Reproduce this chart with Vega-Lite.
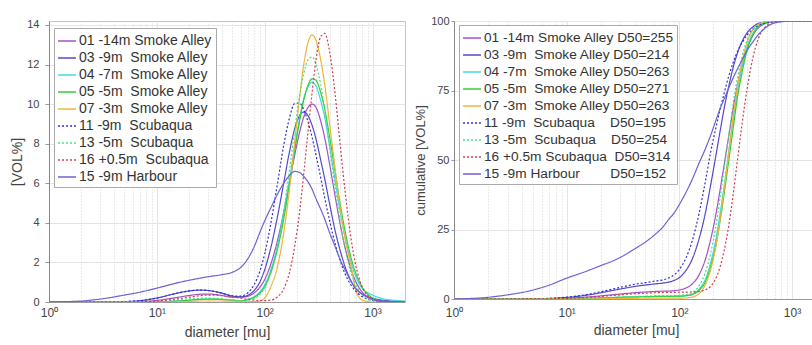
{
"$schema": "https://vega.github.io/schema/vega-lite/v6.json",
"padding": {"left": 10, "top": 14, "right": 0, "bottom": 0},
"spacing": 8,
"background": "white",
"config": {
 "font": "Liberation Sans",
 "view": {"stroke": "#c4c4c4"},
 "axis": {"labelFont": "Liberation Sans", "labelFontSize": 11, "labelColor": "#444", "titleFont": "Liberation Sans", "titleFontSize": 14, "titleFontWeight": "normal", "titleColor": "#444", "domainColor": "#999", "tickColor": "#999", "gridColor": "#e4e4e4"},
 "legend": {"labelFont": "Liberation Sans", "labelFontSize": 14, "labelColor": "#333", "fillColor": "white", "strokeColor": "#aaa", "padding": 3, "symbolSize": 320, "symbolStrokeWidth": 1.5, "rowPadding": 0, "labelOffset": 2, "orient": "none", "labelLimit": 400}
},
"datasets": {"psd": [
{"s":"01","d":1,"f":0,"c":0},{"s":"01","d":2,"f":0,"c":0},{"s":"01","d":3,"f":0,"c":0},{"s":"01","d":5,"f":0,"c":0.03},{"s":"01","d":7,"f":0.02,"c":0.1},{"s":"01","d":10,"f":0.08,"c":0.28},{"s":"01","d":15,"f":0.22,"c":0.68},{"s":"01","d":20,"f":0.33,"c":1.11},{"s":"01","d":25,"f":0.39,"c":1.5},{"s":"01","d":30,"f":0.4,"c":1.8},{"s":"01","d":40,"f":0.33,"c":2.25},{"s":"01","d":50,"f":0.24,"c":2.52},{"s":"01","d":60,"f":0.24,"c":2.7},{"s":"01","d":70,"f":0.29,"c":2.8},{"s":"01","d":80,"f":0.46,"c":2.85},{"s":"01","d":90,"f":0.74,"c":3.0},{"s":"01","d":100,"f":1.13,"c":3.25},{"s":"01","d":115,"f":1.98,"c":4.0},{"s":"01","d":130,"f":3.01,"c":5.4},{"s":"01","d":150,"f":4.52,"c":8.8},{"s":"01","d":170,"f":6.07,"c":14.2},{"s":"01","d":190,"f":7.44,"c":21.6},{"s":"01","d":210,"f":8.55,"c":30.0},{"s":"01","d":230,"f":9.34,"c":39.3},{"s":"01","d":250,"f":9.8,"c":48.4},{"s":"01","d":275,"f":10.0,"c":58.8},{"s":"01","d":300,"f":9.82,"c":68.4},{"s":"01","d":330,"f":9.16,"c":77.4},{"s":"01","d":360,"f":8.3,"c":83.9},{"s":"01","d":400,"f":6.97,"c":90.3},{"s":"01","d":450,"f":5.34,"c":94.9},{"s":"01","d":500,"f":3.96,"c":97.4},{"s":"01","d":560,"f":2.69,"c":98.8},{"s":"01","d":630,"f":1.68,"c":99.5},{"s":"01","d":700,"f":1.03,"c":99.8},{"s":"01","d":800,"f":0.51,"c":100},{"s":"01","d":1000,"f":0.13,"c":100},{"s":"01","d":1300,"f":0.02,"c":100},{"s":"01","d":2000,"f":0,"c":100},
{"s":"03","d":1,"f":0,"c":0},{"s":"03","d":2,"f":0,"c":0},{"s":"03","d":3,"f":0,"c":0.01},{"s":"03","d":5,"f":0.02,"c":0.06},{"s":"03","d":7,"f":0.07,"c":0.19},{"s":"03","d":10,"f":0.2,"c":0.55},{"s":"03","d":15,"f":0.43,"c":1.36},{"s":"03","d":20,"f":0.56,"c":2.22},{"s":"03","d":25,"f":0.6,"c":3.0},{"s":"03","d":30,"f":0.58,"c":3.6},{"s":"03","d":40,"f":0.45,"c":4.5},{"s":"03","d":50,"f":0.3,"c":5.04},{"s":"03","d":60,"f":0.26,"c":5.4},{"s":"03","d":70,"f":0.34,"c":5.7},{"s":"03","d":80,"f":0.59,"c":6.06},{"s":"03","d":90,"f":1.0,"c":6.7},{"s":"03","d":100,"f":1.63,"c":7.7},{"s":"03","d":115,"f":2.83,"c":10.4},{"s":"03","d":130,"f":4.19,"c":14.3},{"s":"03","d":150,"f":6.0,"c":21.8},{"s":"03","d":170,"f":7.61,"c":30.8},{"s":"03","d":190,"f":8.76,"c":41.2},{"s":"03","d":210,"f":9.41,"c":51.1},{"s":"03","d":230,"f":9.6,"c":60.4},{"s":"03","d":250,"f":9.45,"c":68.6},{"s":"03","d":275,"f":8.93,"c":76.7},{"s":"03","d":300,"f":8.21,"c":83.2},{"s":"03","d":330,"f":7.19,"c":88.8},{"s":"03","d":360,"f":6.23,"c":92.6},{"s":"03","d":400,"f":4.96,"c":95.8},{"s":"03","d":450,"f":3.6,"c":97.9},{"s":"03","d":500,"f":2.62,"c":99.1},{"s":"03","d":560,"f":1.74,"c":99.5},{"s":"03","d":630,"f":1.08,"c":99.8},{"s":"03","d":700,"f":0.66,"c":99.9},{"s":"03","d":800,"f":0.4,"c":100},{"s":"03","d":1000,"f":0.2,"c":100},{"s":"03","d":1300,"f":0.08,"c":100},{"s":"03","d":2000,"f":0.02,"c":100},
{"s":"04","d":1,"f":0,"c":0},{"s":"04","d":2,"f":0,"c":0},{"s":"04","d":3,"f":0,"c":0},{"s":"04","d":5,"f":0,"c":0},{"s":"04","d":7,"f":0,"c":0},{"s":"04","d":10,"f":0.01,"c":0.1},{"s":"04","d":15,"f":0.04,"c":0.2},{"s":"04","d":20,"f":0.09,"c":0.4},{"s":"04","d":25,"f":0.13,"c":0.5},{"s":"04","d":30,"f":0.15,"c":0.6},{"s":"04","d":40,"f":0.13,"c":0.75},{"s":"04","d":50,"f":0.09,"c":0.85},{"s":"04","d":60,"f":0.06,"c":0.9},{"s":"04","d":70,"f":0.14,"c":0.95},{"s":"04","d":80,"f":0.27,"c":0.95},{"s":"04","d":90,"f":0.5,"c":1.0},{"s":"04","d":100,"f":0.87,"c":1.05},{"s":"04","d":115,"f":1.69,"c":1.2},{"s":"04","d":130,"f":2.75,"c":1.7},{"s":"04","d":150,"f":4.46,"c":3.6},{"s":"04","d":170,"f":6.19,"c":7.1},{"s":"04","d":190,"f":7.87,"c":13.2},{"s":"04","d":210,"f":9.22,"c":21.1},{"s":"04","d":230,"f":10.25,"c":30.8},{"s":"04","d":250,"f":10.83,"c":40.7},{"s":"04","d":275,"f":11.1,"c":53.3},{"s":"04","d":300,"f":10.9,"c":64.5},{"s":"04","d":330,"f":10.2,"c":75.4},{"s":"04","d":360,"f":9.33,"c":83.6},{"s":"04","d":400,"f":7.87,"c":90.8},{"s":"04","d":450,"f":6.13,"c":95.7},{"s":"04","d":500,"f":4.58,"c":98.1},{"s":"04","d":560,"f":3.19,"c":99.1},{"s":"04","d":630,"f":2.04,"c":99.5},{"s":"04","d":700,"f":1.28,"c":99.7},{"s":"04","d":800,"f":0.7,"c":99.8},{"s":"04","d":1000,"f":0.35,"c":99.9},{"s":"04","d":1300,"f":0.15,"c":100},{"s":"04","d":2000,"f":0.05,"c":100},
{"s":"05","d":1,"f":0,"c":0},{"s":"05","d":2,"f":0,"c":0},{"s":"05","d":3,"f":0,"c":0},{"s":"05","d":5,"f":0,"c":0},{"s":"05","d":7,"f":0,"c":0},{"s":"05","d":10,"f":0.01,"c":0.1},{"s":"05","d":15,"f":0.04,"c":0.2},{"s":"05","d":20,"f":0.09,"c":0.4},{"s":"05","d":25,"f":0.13,"c":0.5},{"s":"05","d":30,"f":0.15,"c":0.6},{"s":"05","d":40,"f":0.13,"c":0.75},{"s":"05","d":50,"f":0.09,"c":0.85},{"s":"05","d":60,"f":0.06,"c":0.9},{"s":"05","d":70,"f":0.12,"c":0.95},{"s":"05","d":80,"f":0.24,"c":0.95},{"s":"05","d":90,"f":0.45,"c":1.0},{"s":"05","d":100,"f":0.78,"c":1.0},{"s":"05","d":115,"f":1.56,"c":1.2},{"s":"05","d":130,"f":2.57,"c":1.6},{"s":"05","d":150,"f":4.18,"c":3.1},{"s":"05","d":170,"f":5.97,"c":6.2},{"s":"05","d":190,"f":7.67,"c":11.7},{"s":"05","d":210,"f":9.1,"c":18.9},{"s":"05","d":230,"f":10.2,"c":28.1},{"s":"05","d":250,"f":10.9,"c":38.0},{"s":"05","d":275,"f":11.28,"c":50.1},{"s":"05","d":300,"f":11.19,"c":61.4},{"s":"05","d":330,"f":10.6,"c":73.2},{"s":"05","d":360,"f":9.76,"c":81.5},{"s":"05","d":400,"f":8.34,"c":89.5},{"s":"05","d":450,"f":6.58,"c":95.0},{"s":"05","d":500,"f":4.98,"c":97.7},{"s":"05","d":560,"f":3.5,"c":99.1},{"s":"05","d":630,"f":2.27,"c":99.7},{"s":"05","d":700,"f":1.45,"c":99.9},{"s":"05","d":800,"f":0.77,"c":100},{"s":"05","d":1000,"f":0.21,"c":100},{"s":"05","d":1300,"f":0.03,"c":100},{"s":"05","d":2000,"f":0,"c":100},
{"s":"07","d":1,"f":0,"c":0},{"s":"07","d":2,"f":0,"c":0},{"s":"07","d":3,"f":0,"c":0},{"s":"07","d":5,"f":0,"c":0},{"s":"07","d":7,"f":0,"c":0},{"s":"07","d":10,"f":0,"c":0},{"s":"07","d":15,"f":0,"c":0.05},{"s":"07","d":20,"f":0.03,"c":0.1},{"s":"07","d":25,"f":0.05,"c":0.15},{"s":"07","d":30,"f":0.05,"c":0.2},{"s":"07","d":40,"f":0.05,"c":0.25},{"s":"07","d":50,"f":0.04,"c":0.28},{"s":"07","d":60,"f":0.03,"c":0.3},{"s":"07","d":70,"f":0.02,"c":0.3},{"s":"07","d":80,"f":0.02,"c":0.3},{"s":"07","d":90,"f":0.05,"c":0.3},{"s":"07","d":100,"f":0.2,"c":0.3},{"s":"07","d":115,"f":0.82,"c":0.4},{"s":"07","d":130,"f":1.69,"c":0.7},{"s":"07","d":150,"f":3.46,"c":2.0},{"s":"07","d":170,"f":5.72,"c":5.1},{"s":"07","d":190,"f":8.11,"c":10.7},{"s":"07","d":210,"f":10.28,"c":18.6},{"s":"07","d":230,"f":11.98,"c":28.6},{"s":"07","d":250,"f":13.04,"c":39.6},{"s":"07","d":275,"f":13.5,"c":53.0},{"s":"07","d":300,"f":13.2,"c":65.3},{"s":"07","d":330,"f":12.26,"c":77.1},{"s":"07","d":360,"f":11.0,"c":85.3},{"s":"07","d":400,"f":9.0,"c":92.4},{"s":"07","d":450,"f":6.73,"c":96.9},{"s":"07","d":500,"f":4.79,"c":98.7},{"s":"07","d":560,"f":3.13,"c":99.6},{"s":"07","d":630,"f":1.85,"c":99.9},{"s":"07","d":700,"f":0.6,"c":100},{"s":"07","d":800,"f":0.1,"c":100},{"s":"07","d":1000,"f":0,"c":100},{"s":"07","d":1300,"f":0,"c":100},{"s":"07","d":2000,"f":0,"c":100},
{"s":"11","d":1,"f":0,"c":0},{"s":"11","d":2,"f":0,"c":0},{"s":"11","d":3,"f":0,"c":0.01},{"s":"11","d":5,"f":0.02,"c":0.07},{"s":"11","d":7,"f":0.07,"c":0.22},{"s":"11","d":10,"f":0.2,"c":0.64},{"s":"11","d":15,"f":0.43,"c":1.59},{"s":"11","d":20,"f":0.56,"c":2.59},{"s":"11","d":25,"f":0.6,"c":3.5},{"s":"11","d":30,"f":0.58,"c":4.2},{"s":"11","d":40,"f":0.45,"c":5.25},{"s":"11","d":50,"f":0.31,"c":5.88},{"s":"11","d":60,"f":0.3,"c":6.4},{"s":"11","d":70,"f":0.47,"c":6.8},{"s":"11","d":80,"f":0.88,"c":7.5},{"s":"11","d":90,"f":1.54,"c":8.7},{"s":"11","d":100,"f":2.44,"c":10.6},{"s":"11","d":115,"f":4.09,"c":14.9},{"s":"11","d":130,"f":5.83,"c":20.9},{"s":"11","d":150,"f":7.9,"c":31.0},{"s":"11","d":170,"f":9.32,"c":42.2},{"s":"11","d":190,"f":10.03,"c":53.1},{"s":"11","d":210,"f":10.05,"c":61.2},{"s":"11","d":230,"f":9.72,"c":68.3},{"s":"11","d":250,"f":9.17,"c":74.1},{"s":"11","d":275,"f":8.33,"c":80.3},{"s":"11","d":300,"f":7.39,"c":85.0},{"s":"11","d":330,"f":6.31,"c":89.3},{"s":"11","d":360,"f":5.27,"c":92.2},{"s":"11","d":400,"f":4.11,"c":95.0},{"s":"11","d":450,"f":2.94,"c":97.1},{"s":"11","d":500,"f":2.11,"c":98.3},{"s":"11","d":560,"f":1.39,"c":99.1},{"s":"11","d":630,"f":0.86,"c":99.5},{"s":"11","d":700,"f":0.54,"c":99.8},{"s":"11","d":800,"f":0.28,"c":99.9},{"s":"11","d":1000,"f":0.08,"c":100},{"s":"11","d":1300,"f":0.01,"c":100},{"s":"11","d":2000,"f":0,"c":100},
{"s":"13","d":1,"f":0,"c":0},{"s":"13","d":2,"f":0,"c":0},{"s":"13","d":3,"f":0,"c":0},{"s":"13","d":5,"f":0,"c":0},{"s":"13","d":7,"f":0,"c":0.04},{"s":"13","d":10,"f":0.02,"c":0.1},{"s":"13","d":15,"f":0.09,"c":0.3},{"s":"13","d":20,"f":0.16,"c":0.4},{"s":"13","d":25,"f":0.19,"c":0.6},{"s":"13","d":30,"f":0.2,"c":0.7},{"s":"13","d":40,"f":0.16,"c":0.9},{"s":"13","d":50,"f":0.11,"c":1.0},{"s":"13","d":60,"f":0.07,"c":1.1},{"s":"13","d":70,"f":0.1,"c":1.1},{"s":"13","d":80,"f":0.19,"c":1.1},{"s":"13","d":90,"f":0.38,"c":1.2},{"s":"13","d":100,"f":0.71,"c":1.3},{"s":"13","d":115,"f":1.52,"c":1.6},{"s":"13","d":130,"f":2.64,"c":2.3},{"s":"13","d":150,"f":4.59,"c":4.8},{"s":"13","d":170,"f":6.7,"c":9.5},{"s":"13","d":190,"f":8.72,"c":16.6},{"s":"13","d":210,"f":10.36,"c":25.7},{"s":"13","d":230,"f":11.53,"c":36.4},{"s":"13","d":250,"f":12.2,"c":47.0},{"s":"13","d":275,"f":12.39,"c":59.2},{"s":"13","d":300,"f":11.99,"c":70.2},{"s":"13","d":330,"f":11.0,"c":80.1},{"s":"13","d":360,"f":9.7,"c":87.1},{"s":"13","d":400,"f":7.83,"c":93.2},{"s":"13","d":450,"f":5.74,"c":96.9},{"s":"13","d":500,"f":4.08,"c":98.7},{"s":"13","d":560,"f":2.59,"c":99.5},{"s":"13","d":630,"f":1.51,"c":99.9},{"s":"13","d":700,"f":0.86,"c":100},{"s":"13","d":800,"f":0.39,"c":100},{"s":"13","d":1000,"f":0.08,"c":100},{"s":"13","d":1300,"f":0,"c":100},{"s":"13","d":2000,"f":0,"c":100},
{"s":"16","d":1,"f":0,"c":0},{"s":"16","d":2,"f":0,"c":0},{"s":"16","d":3,"f":0,"c":0},{"s":"16","d":5,"f":0,"c":0.02},{"s":"16","d":7,"f":0.01,"c":0.08},{"s":"16","d":10,"f":0.05,"c":0.23},{"s":"16","d":15,"f":0.15,"c":0.57},{"s":"16","d":20,"f":0.25,"c":0.93},{"s":"16","d":25,"f":0.32,"c":1.25},{"s":"16","d":30,"f":0.35,"c":1.5},{"s":"16","d":40,"f":0.32,"c":1.9},{"s":"16","d":50,"f":0.25,"c":2.1},{"s":"16","d":60,"f":0.19,"c":2.25},{"s":"16","d":70,"f":0.14,"c":2.3},{"s":"16","d":80,"f":0.09,"c":2.4},{"s":"16","d":90,"f":0.07,"c":2.4},{"s":"16","d":100,"f":0.07,"c":2.45},{"s":"16","d":115,"f":0.1,"c":2.5},{"s":"16","d":130,"f":0.24,"c":2.54},{"s":"16","d":150,"f":0.66,"c":2.7},{"s":"16","d":170,"f":1.5,"c":3.3},{"s":"16","d":190,"f":2.84,"c":4.6},{"s":"16","d":210,"f":4.48,"c":7.3},{"s":"16","d":230,"f":6.46,"c":11.6},{"s":"16","d":250,"f":8.41,"c":17.5},{"s":"16","d":275,"f":10.57,"c":26.7},{"s":"16","d":300,"f":12.3,"c":37.5},{"s":"16","d":330,"f":13.4,"c":50.9},{"s":"16","d":360,"f":13.57,"c":62.8},{"s":"16","d":400,"f":12.65,"c":75.8},{"s":"16","d":450,"f":10.5,"c":86.9},{"s":"16","d":500,"f":8.0,"c":93.4},{"s":"16","d":560,"f":5.46,"c":97.2},{"s":"16","d":630,"f":3.25,"c":99.0},{"s":"16","d":700,"f":1.84,"c":99.7},{"s":"16","d":800,"f":0.78,"c":99.9},{"s":"16","d":1000,"f":0.14,"c":100},{"s":"16","d":1300,"f":0.01,"c":100},{"s":"16","d":2000,"f":0,"c":100},
{"s":"15","d":1,"f":0,"c":0},{"s":"15","d":2,"f":0.05,"c":0.6},{"s":"15","d":3,"f":0.15,"c":1.5},{"s":"15","d":5,"f":0.35,"c":3.2},{"s":"15","d":7,"f":0.5,"c":5},{"s":"15","d":10,"f":0.7,"c":7.5},{"s":"15","d":15,"f":0.95,"c":10},{"s":"15","d":20,"f":1.1,"c":12},{"s":"15","d":25,"f":1.2,"c":13.5},{"s":"15","d":30,"f":1.28,"c":15},{"s":"15","d":40,"f":1.38,"c":18},{"s":"15","d":50,"f":1.5,"c":20.5},{"s":"15","d":60,"f":1.75,"c":23},{"s":"15","d":70,"f":2.2,"c":25.5},{"s":"15","d":80,"f":2.8,"c":28.5},{"s":"15","d":90,"f":3.5,"c":31},{"s":"15","d":100,"f":4.1,"c":34},{"s":"15","d":115,"f":4.8,"c":38.5},{"s":"15","d":130,"f":5.4,"c":43},{"s":"15","d":150,"f":6.0,"c":49},{"s":"15","d":170,"f":6.4,"c":54},{"s":"15","d":190,"f":6.6,"c":59},{"s":"15","d":210,"f":6.55,"c":64},{"s":"15","d":230,"f":6.35,"c":68.5},{"s":"15","d":250,"f":6.1,"c":72},{"s":"15","d":275,"f":5.7,"c":76},{"s":"15","d":300,"f":5.2,"c":79.5},{"s":"15","d":330,"f":4.7,"c":83},{"s":"15","d":360,"f":4.2,"c":86},{"s":"15","d":400,"f":3.5,"c":89.5},{"s":"15","d":450,"f":2.8,"c":92.5},{"s":"15","d":500,"f":2.15,"c":95},{"s":"15","d":560,"f":1.6,"c":97},{"s":"15","d":630,"f":1.05,"c":98.5},{"s":"15","d":700,"f":0.7,"c":99.3},{"s":"15","d":800,"f":0.4,"c":99.7},{"s":"15","d":1000,"f":0.15,"c":100},{"s":"15","d":1300,"f":0.05,"c":100},{"s":"15","d":2000,"f":0,"c":100}
]},
"resolve": {"legend": {"color": "independent", "strokeDash": "independent"}},
"hconcat": [
 {
  "width": 356, "height": 281,
  "data": {"name": "psd"},
  "mark": {"type": "line", "interpolate": "monotone", "clip": true},
  "encoding": {
   "x": {"field": "d", "type": "quantitative", "scale": {"type": "log", "domain": [1, 2000], "nice": false},
    "axis": {"title": "diameter [mu]", "values": [1,2,3,4,5,6,7,8,9,10,20,30,40,50,60,70,80,90,100,200,300,400,500,600,700,800,900,1000],
     "labelExpr": "datum.value === 1 ? '10\u2070' : datum.value === 10 ? '10\u00b9' : datum.value === 100 ? '10\u00b2' : datum.value === 1000 ? '10\u00b3' : ''",
     "labelOverlap": false, "labelFlush": false, "labelFontSize": 12, "ticks": false, "labelPadding": 5, "titlePadding": 7,
     "gridDash": {"condition": {"test": "indexof([1,10,100,1000], datum.value) >= 0", "value": []}, "value": [1, 2]},
     "gridColor": {"condition": {"test": "indexof([1,10,100,1000], datum.value) >= 0", "value": "#e4e4e4"}, "value": "#d4d4d4"}}},
   "y": {"field": "f", "type": "quantitative", "scale": {"domain": [0, 14.2], "nice": false},
    "axis": {"title": "[VOL%]", "values": [0,2,4,6,8,10,12,14], "tickSize": 4, "labelPadding": 6, "titlePadding": 2, "domainColor": "#888"}},
   "color": {"field": "s", "type": "nominal",
    "scale": {"domain": ["01","03","04","05","07","11","13","16","15"], "range": ["#a650c8","#5548c8","#3fd8e6","#33cc33","#f0b437","#2f2fd0","#45e07c","#d23c50","#6c62d4"]},
    "legend": {"title": null, "orient": "none", "legendX": 5, "legendY": 7,
     "labelExpr": "['01 -14m Smoke Alley','03 -9m\u00a0 Smoke Alley','04 -7m\u00a0 Smoke Alley','05 -5m\u00a0 Smoke Alley','07 -3m\u00a0 Smoke Alley','11 -9m\u00a0 Scubaqua','13 -5m\u00a0 Scubaqua','16 +0.5m\u00a0 Scubaqua','15 -9m Harbour'][indexof(['01','03','04','05','07','11','13','16','15'], datum.label)]"}},
   "strokeDash": {"field": "s", "type": "nominal",
    "scale": {"domain": ["01","03","04","05","07","11","13","16","15"], "range": [[1,0],[1,0],[1,0],[1,0],[1,0],[2,2],[2,2],[2,2],[1,0]]},
    "legend": {"title": null, "orient": "none", "legendX": 5, "legendY": 7,
     "labelExpr": "['01 -14m Smoke Alley','03 -9m\u00a0 Smoke Alley','04 -7m\u00a0 Smoke Alley','05 -5m\u00a0 Smoke Alley','07 -3m\u00a0 Smoke Alley','11 -9m\u00a0 Scubaqua','13 -5m\u00a0 Scubaqua','16 +0.5m\u00a0 Scubaqua','15 -9m Harbour'][indexof(['01','03','04','05','07','11','13','16','15'], datum.label)]"}},
   "strokeWidth": {"field": "s", "type": "nominal",
    "scale": {"domain": ["01","03","04","05","07","11","13","16","15"], "range": [1.2,1.2,1.2,2,1.2,1.4,1.4,1.4,1.2]}, "legend": null}
  }
 },
 {
  "width": 364, "height": 278,
  "data": {"name": "psd"},
  "mark": {"type": "line", "interpolate": "monotone", "clip": true},
  "encoding": {
   "x": {"field": "d", "type": "quantitative", "scale": {"type": "log", "domain": [1, 1700], "nice": false},
    "axis": {"title": "diameter [mu]", "values": [1,2,3,4,5,6,7,8,9,10,20,30,40,50,60,70,80,90,100,200,300,400,500,600,700,800,900,1000],
     "labelExpr": "datum.value === 1 ? '10\u2070' : datum.value === 10 ? '10\u00b9' : datum.value === 100 ? '10\u00b2' : datum.value === 1000 ? '10\u00b3' : ''",
     "labelOverlap": false, "labelFlush": false, "labelFontSize": 12, "ticks": false, "labelPadding": 8, "titlePadding": 5,
     "gridDash": {"condition": {"test": "indexof([1,10,100,1000], datum.value) >= 0", "value": []}, "value": [1, 2]},
     "gridColor": {"condition": {"test": "indexof([1,10,100,1000], datum.value) >= 0", "value": "#e4e4e4"}, "value": "#d4d4d4"}}},
   "y": {"field": "c", "type": "quantitative", "scale": {"domain": [0, 100], "nice": false},
    "axis": {"title": "cumulative [VOL%]", "titleFontSize": 13, "values": [0,25,50,75,100], "tickSize": 3, "labelPadding": 2, "titlePadding": 3, "domainColor": "#888"}},
   "color": {"field": "s", "type": "nominal",
    "scale": {"domain": ["01","03","04","05","07","11","13","16","15"], "range": ["#a650c8","#5548c8","#3fd8e6","#33cc33","#f0b437","#2f2fd0","#45e07c","#d23c50","#6c62d4"]},
    "legend": {"title": null, "orient": "none", "legendX": 5, "legendY": 4, "labelFontSize": 13.7,
     "labelExpr": "['01 -14m Smoke Alley D50=255','03 -9m\u00a0 Smoke Alley D50=214','04 -7m\u00a0 Smoke Alley D50=263','05 -5m\u00a0 Smoke Alley D50=271','07 -3m\u00a0 Smoke Alley D50=263','11 -9m\u00a0 Scubaqua\u00a0\u00a0\u00a0\u00a0D50=195','13 -5m\u00a0 Scubaqua\u00a0\u00a0\u00a0\u00a0D50=254','16 +0.5m Scubaqua\u00a0 D50=314','15 -9m Harbour\u00a0\u00a0\u00a0\u00a0\u00a0\u00a0\u00a0\u00a0D50=152'][indexof(['01','03','04','05','07','11','13','16','15'], datum.label)]"}},
   "strokeDash": {"field": "s", "type": "nominal",
    "scale": {"domain": ["01","03","04","05","07","11","13","16","15"], "range": [[1,0],[1,0],[1,0],[1,0],[1,0],[2,2],[2,2],[2,2],[1,0]]},
    "legend": {"title": null, "orient": "none", "legendX": 5, "legendY": 4, "labelFontSize": 13.7,
     "labelExpr": "['01 -14m Smoke Alley D50=255','03 -9m\u00a0 Smoke Alley D50=214','04 -7m\u00a0 Smoke Alley D50=263','05 -5m\u00a0 Smoke Alley D50=271','07 -3m\u00a0 Smoke Alley D50=263','11 -9m\u00a0 Scubaqua\u00a0\u00a0\u00a0\u00a0D50=195','13 -5m\u00a0 Scubaqua\u00a0\u00a0\u00a0\u00a0D50=254','16 +0.5m Scubaqua\u00a0 D50=314','15 -9m Harbour\u00a0\u00a0\u00a0\u00a0\u00a0\u00a0\u00a0\u00a0D50=152'][indexof(['01','03','04','05','07','11','13','16','15'], datum.label)]"}},
   "strokeWidth": {"field": "s", "type": "nominal",
    "scale": {"domain": ["01","03","04","05","07","11","13","16","15"], "range": [1.2,1.2,1.2,2,1.2,1.4,1.4,1.4,1.2]}, "legend": null}
  }
 }
]
}
